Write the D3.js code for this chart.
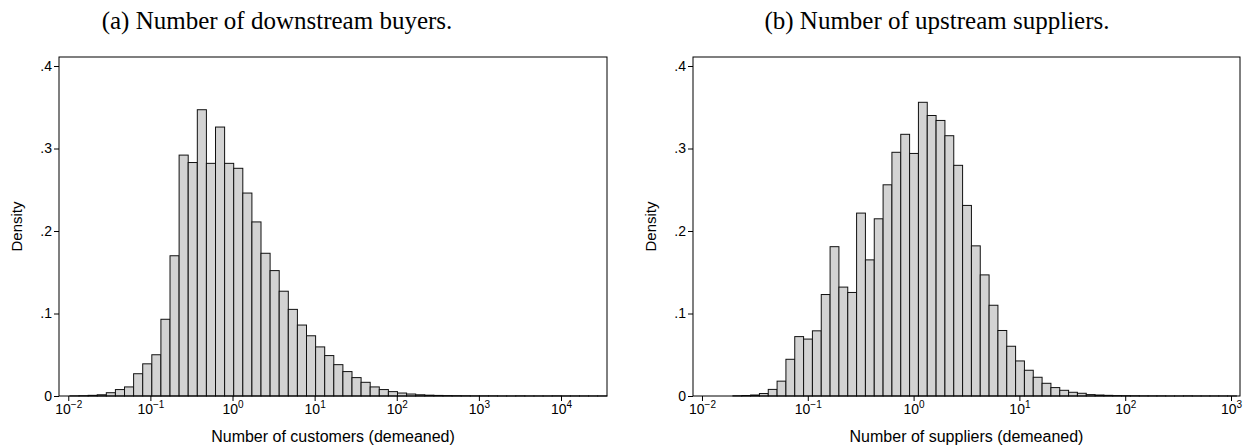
<!DOCTYPE html>
<html>
<head>
<meta charset="utf-8">
<script src="https://cdn.jsdelivr.net/npm/d3@7"></script>
<style>
  body { margin: 0; background: #fff; }
  text { font-family: "Liberation Sans", Arial, sans-serif; }
</style>
</head>
<body>
<div id="chart"></div>
<script>
// y axis
const densityTicks = [0, 0.1, 0.2, 0.3, 0.4];
const densityTickLabels = ["0", ".1", ".2", ".3", ".4"];

// x axis: powers of ten
const buyersExponents = [-2, -1, 0, 1, 2, 3, 4];
const suppliersExponents = [-2, -1, 0, 1, 2, 3];

// histogram bins are even in log10 space: first edge (log10) and width
const buyersFirstEdge = -1.98;
const buyersBinWidth = 0.1108;
const buyersDensity = [
  0.0002, 0.0004, 0.0008, 0.0015, 0.004, 0.0078, 0.011, 0.027, 0.039, 0.050,
  0.093, 0.170, 0.292, 0.283, 0.347, 0.282, 0.326, 0.282, 0.276, 0.246,
  0.211, 0.173, 0.152, 0.127, 0.105, 0.086, 0.073, 0.0595, 0.049, 0.038,
  0.0296, 0.0223, 0.0166, 0.011, 0.0078, 0.0053, 0.0036, 0.0024, 0.0015, 0.001,
  0.0007, 0.0005, 0.0004, 0.0003, 0.0002, 0.0002, 0.0002, 0.0001, 0.0001, 0.0002,
  0.0001, 0.0001, 0.0001, 0.0002, 0.0001, 0.0001, 0.0001, 0.0001, 0.0001
];

const suppliersFirstEdge = -1.7077;
const suppliersBinWidth = 0.08349;
const suppliersDensity = [
  0.0003, 0.0006, 0.0012, 0.003, 0.008, 0.018, 0.0445, 0.072, 0.069, 0.079,
  0.123, 0.181, 0.132, 0.1255, 0.2217, 0.165, 0.2148, 0.256, 0.2954, 0.3172,
  0.294, 0.356, 0.340, 0.334, 0.3155, 0.2796, 0.231, 0.182, 0.1468, 0.110,
  0.0794, 0.0603, 0.0425, 0.0312, 0.0227, 0.0154, 0.0102, 0.0069, 0.0045, 0.0033,
  0.0017, 0.0012, 0.0008, 0.0005, 0.0004, 0.0003, 0.0002, 0.0002, 0.0002, 0.0001,
  0.0001, 0.0002, 0.0001, 0.0001, 0.0001, 0.0001, 0.0001
];

const width = 1252;
const height = 446;

const svg = d3.select("#chart")
  .append("svg")
  .attr("width", width)
  .attr("height", height);

svg.append("rect").attr("width", width).attr("height", height).attr("fill", "#fff");

function drawPanel(p) {
  const x = d3.scaleLog()
    .domain(p.xDomain)
    .range([p.left, p.right]);

  const y = d3.scaleLinear()
    .domain([0, 0.4])
    .range([p.bottom, 66]);

  const g = svg.append("g");

  // bars
  g.append("g")
    .selectAll("rect")
    .data(p.density)
    .join("rect")
      .attr("x", (d, i) => x(Math.pow(10, p.firstEdge + i * p.binWidth)))
      .attr("width", (d, i) => x(Math.pow(10, p.firstEdge + (i + 1) * p.binWidth)) - x(Math.pow(10, p.firstEdge + i * p.binWidth)))
      .attr("y", d => y(d))
      .attr("height", d => y(0) - y(d))
      .attr("fill", "#d3d3d3")
      .attr("stroke", "#111")
      .attr("stroke-width", 1);

  // frame
  g.append("rect")
    .attr("x", p.left)
    .attr("y", p.top)
    .attr("width", p.right - p.left)
    .attr("height", p.bottom - p.top)
    .attr("fill", "none")
    .attr("stroke", "#000")
    .attr("stroke-width", 1);

  // y axis
  const yAxis = g.append("g")
    .attr("transform", `translate(${p.left},0)`)
    .call(d3.axisLeft(y).tickValues(densityTicks)
      .tickFormat((d, i) => densityTickLabels[i]).tickSize(5).tickPadding(2));
  yAxis.select(".domain").remove();
  yAxis.selectAll("text").attr("font-size", 14).attr("fill", "#000")
    .style("font-family", '"Liberation Sans", Arial, sans-serif');

  // x axis
  const xAxis = g.append("g")
    .attr("transform", `translate(0,${p.bottom})`)
    .call(d3.axisBottom(x).tickValues(p.exponents.map(e => Math.pow(10, e)))
      .tickFormat("").tickSize(5));
  xAxis.select(".domain").remove();
  xAxis.selectAll(".tick").each(function(d, i) {
    const t = d3.select(this).append("text")
      .attr("y", 18)
      .attr("text-anchor", "middle")
      .attr("fill", "#000")
      .attr("font-size", 14);
    t.append("tspan").text("10");
    const e = p.exponents[i];
    t.append("tspan")
      .attr("dy", -6)
      .attr("font-size", 10)
      .text(e < 0 ? "\u2212" + Math.abs(e) : String(e));
  });

  // axis titles
  g.append("text")
    .attr("transform", `translate(${p.left - 37},${(p.top + p.bottom) / 2}) rotate(-90)`)
    .attr("text-anchor", "middle")
    .attr("font-size", 15)
    .text("Density");

  g.append("text")
    .attr("x", (p.left + p.right) / 2)
    .attr("y", 442)
    .attr("text-anchor", "middle")
    .attr("font-size", 16)
    .text(p.xTitle);

  // panel caption
  g.append("text")
    .attr("x", p.captionX)
    .attr("y", 29)
    .attr("text-anchor", "middle")
    .attr("font-size", 25)
    .style("font-family", '"Liberation Serif", "DejaVu Serif", serif')
    .text(p.caption);
}

drawPanel({
  left: 59, right: 607, top: 57, bottom: 396,
  xDomain: [Math.pow(10, -2.113), Math.pow(10, 4.56)],
  exponents: buyersExponents,
  firstEdge: buyersFirstEdge, binWidth: buyersBinWidth, density: buyersDensity,
  xTitle: "Number of customers (demeaned)",
  caption: "(a) Number of downstream buyers.",
  captionX: 277
});

drawPanel({
  left: 693, right: 1240, top: 57, bottom: 396,
  xDomain: [Math.pow(10, -2.085), Math.pow(10, 3.085)],
  exponents: suppliersExponents,
  firstEdge: suppliersFirstEdge, binWidth: suppliersBinWidth, density: suppliersDensity,
  xTitle: "Number of suppliers (demeaned)",
  caption: "(b) Number of upstream suppliers.",
  captionX: 937
});
</script>
</body>
</html>
